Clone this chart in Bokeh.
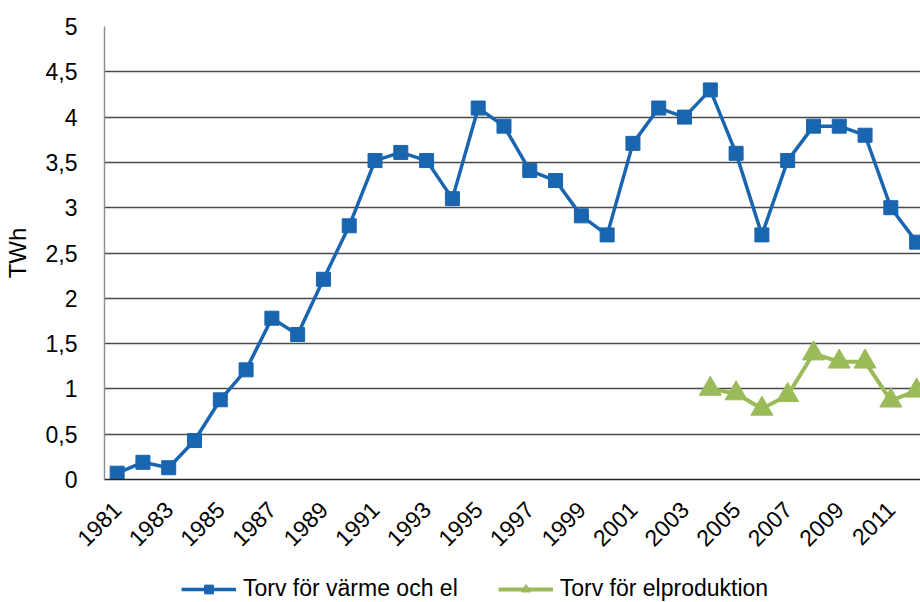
import math
from bokeh.plotting import figure
from bokeh.layouts import column
from bokeh.models import FixedTicker, Legend, LegendItem, Range1d
from bokeh.embed import file_html
from bokeh.resources import INLINE

years = list(range(1981, 2013))
heat_el = [0.07, 0.19, 0.13, 0.43, 0.88, 1.21, 1.78, 1.60, 2.21, 2.80,
           3.52, 3.61, 3.52, 3.10, 4.10, 3.90, 3.41, 3.30, 2.91, 2.70,
           3.71, 4.10, 4.00, 4.30, 3.60, 2.70, 3.52, 3.90, 3.90, 3.80,
           3.00, 2.62]
el_years = list(range(2004, 2013))
el_prod = [1.00, 0.95, 0.78, 0.93, 1.39, 1.30, 1.30, 0.87, 0.98]

x_ticks = list(range(1981, 2012, 2))
y_ticks = [0, 0.5, 1, 1.5, 2, 2.5, 3, 3.5, 4, 4.5, 5]
y_labels = ["0", "0,5", "1", "1,5", "2", "2,5", "3", "3,5", "4", "4,5", "5"]
series_names = ["Torv för värme och el", "Torv för elproduktion"]
y_title = "TWh"

BLUE = "#1965B0"
GREEN = "#9BBB59"
FONT = "Liberation Sans"

W = 920
p = figure(width=W, height=556, output_backend="svg", toolbar_location=None,
           x_range=Range1d(1980.51, 2012.15), y_range=Range1d(0, 5),
           min_border_left=100, min_border_right=0, min_border_top=26,
           min_border_bottom=77)
p.outline_line_color = None
p.background_fill_color = "white"
p.border_fill_color = "white"

line_kw1 = dict(line_color=BLUE, line_width=3.5)
mark_kw1 = dict(marker="square", size=14, fill_color=BLUE, line_color=BLUE)
line_kw2 = dict(line_color=GREEN, line_width=4)
mark_kw2 = dict(marker="triangle", size=22, fill_color=GREEN, line_color=GREEN)

p.line(years, heat_el, **line_kw1)
p.scatter(years, heat_el, **mark_kw1)
p.line(el_years, el_prod, **line_kw2)
p.scatter(el_years, el_prod, **mark_kw2)

p.xgrid.grid_line_color = None
p.ygrid.ticker = FixedTicker(ticks=y_ticks)
p.ygrid.grid_line_color = "#4a4a4a"
p.ygrid.grid_line_width = 1.4

xa = p.xaxis[0]
xa.ticker = FixedTicker(ticks=x_ticks)
xa.major_label_orientation = math.pi / 4
xa.major_label_text_font = FONT
xa.major_label_text_font_size = "23px"
xa.major_label_text_color = "#000000"
xa.major_tick_line_color = None
xa.minor_tick_line_color = None
xa.axis_line_color = "#262626"
xa.axis_line_width = 1.6
xa.major_label_standoff = 20

ya = p.yaxis[0]
ya.ticker = FixedTicker(ticks=y_ticks)
ya.major_label_overrides = {t: l for t, l in zip(y_ticks, y_labels)}
ya.major_label_text_font = FONT
ya.major_label_text_font_size = "23px"
ya.major_label_text_color = "#000000"
ya.major_tick_line_color = None
ya.minor_tick_line_color = None
ya.axis_line_color = "#8c8c8c"
ya.axis_line_width = 1.4
ya.major_label_standoff = 21
ya.axis_label = y_title
ya.axis_label_text_font = FONT
ya.axis_label_text_font_size = "24px"
ya.axis_label_text_font_style = "normal"
ya.axis_label_text_color = "#000000"
ya.axis_label_standoff = 12

# legend strip below the chart
lg = figure(width=W, height=46, output_backend="svg", toolbar_location=None,
            x_axis_type=None, y_axis_type=None,
            x_range=Range1d(0, 1), y_range=Range1d(0, 1),
            min_border_left=0, min_border_right=0, min_border_top=0,
            min_border_bottom=0)
lg.grid.visible = False
lg.outline_line_color = None
lg.border_fill_color = "white"
r1 = lg.line([0], [-5], **line_kw1)
r1m = lg.scatter([0], [-5], **mark_kw1)
r2 = lg.line([0], [-5], **line_kw2)
r2m = lg.scatter([0], [-5], **mark_kw2)

legend = Legend(items=[LegendItem(label=series_names[0], renderers=[r1, r1m]),
                       LegendItem(label=series_names[1], renderers=[r2, r2m])],
                orientation="horizontal", location=(77, 0),
                label_text_font=FONT, label_text_font_size="23px",
                label_text_color="#000000",
                glyph_width=55, glyph_height=22, label_standoff=7,
                spacing=40, border_line_color=None,
                background_fill_alpha=0, padding=0, margin=0)
lg.add_layout(legend, "center")

layout = column(p, lg, spacing=0)
open("out.html", "w").write(file_html(layout, INLINE))
